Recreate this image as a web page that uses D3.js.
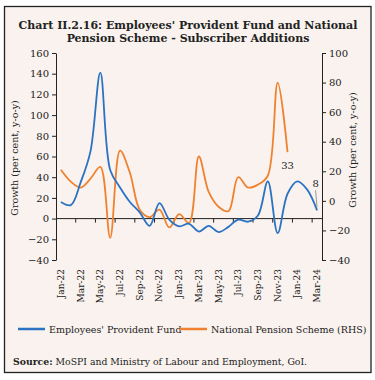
<!DOCTYPE html>
<html>
<head>
<meta charset="utf-8">
<script src="https://cdn.jsdelivr.net/npm/d3@7"></script>
<style>
  body { margin: 0; background: #fff; }
  svg { display: block; }
</style>
</head>
<body>
<div id="chart"></div>
<script>
const months = ["Jan-22","Feb-22","Mar-22","Apr-22","May-22","Jun-22","Jul-22","Aug-22","Sep-22","Oct-22","Nov-22","Dec-22",
  "Jan-23","Feb-23","Mar-23","Apr-23","May-23","Jun-23","Jul-23","Aug-23","Sep-23","Oct-23","Nov-23","Dec-23",
  "Jan-24","Feb-24","Mar-24"];

// EPF growth (left axis)
const epf = [16, 13, 35, 65, 141, 47, 30, 16, 6, -7, 15, -1,
  -7.5, -5, -12.5, -7, -13, -8, -1, -3, 3, 36, -14, 24,
  36, 28, 8];

// NPS growth (right axis), ends Dec-23
const nps = [21, 13, 9, 15, 23, -25, 34, 19, -6, -11, -6, -18,
  -9, -15, 30, 6, -4, -7, 16, 9, 11, 17, 80, 33];

const leftTicks = [160, 140, 120, 100, 80, 60, 40, 20, 0, -20, -40];
const rightTicks = [100, 80, 60, 40, 20, 0, -20, -40];

const W = 375, H = 380;
const plot = { left: 56, right: 322, top: 53, bottom: 260 };
const font = "'DejaVu Serif', serif";

const svg = d3.select("#chart")
  .append("svg")
    .attr("width", W)
    .attr("height", H);

// panel background + border
svg.append("rect")
  .attr("x", 4.5).attr("y", 6.5)
  .attr("width", 366.5).attr("height", 366)
  .attr("fill", "#f9f2ee")
  .attr("stroke", "#222")
  .attr("stroke-width", 1.3);

// title
const title = svg.append("text")
  .attr("text-anchor", "middle")
  .attr("font-family", font)
  .attr("font-weight", "bold")
  .attr("font-size", "11px")
  .attr("fill", "#222");
title.append("tspan").attr("x", 188).attr("y", 29).text("Chart II.2.16: Employees' Provident Fund and National");
title.append("tspan").attr("x", 188).attr("y", 42).text("Pension Scheme - Subscriber Additions");

// scales
const x = d3.scaleBand()
  .domain(months)
  .range([plot.left, plot.right]);

const yL = d3.scaleLinear()
  .domain([-40, 160])
  .range([plot.bottom, plot.top]);

const yR = d3.scaleLinear()
  .domain([-40, 100])
  .range([plot.bottom, plot.top]);

// left axis
svg.append("g")
  .attr("transform", `translate(${plot.left},0)`)
  .call(d3.axisLeft(yL).tickValues(leftTicks).tickSize(4).tickPadding(3).tickSizeOuter(0))
  .call(g => g.select(".domain").attr("stroke", "#222"))
  .call(g => g.selectAll("line").attr("stroke", "#222"))
  .call(g => g.selectAll("text").attr("font-family", font).attr("font-size", "10px").attr("fill", "#222"));

// right axis
svg.append("g")
  .attr("transform", `translate(${plot.right},0)`)
  .call(d3.axisRight(yR).tickValues(rightTicks).tickSize(4).tickPadding(3).tickSizeOuter(0))
  .call(g => g.select(".domain").attr("stroke", "#222"))
  .call(g => g.selectAll("line").attr("stroke", "#222"))
  .call(g => g.selectAll("text").attr("font-family", font).attr("font-size", "10px").attr("fill", "#222"));

// x axis along zero of left scale
const bw = x.step();
const tickIdx = d3.range(2, months.length, 2);
const xg = svg.append("g");
xg.append("line")
  .attr("x1", plot.left).attr("x2", plot.right)
  .attr("y1", yL(0)).attr("y2", yL(0))
  .attr("stroke", "#222");
xg.selectAll("line.tick")
  .data(tickIdx)
  .enter()
  .append("line")
    .attr("class", "tick")
    .attr("x1", d => plot.left + d * bw).attr("x2", d => plot.left + d * bw)
    .attr("y1", yL(0)).attr("y2", yL(0) + 4)
    .attr("stroke", "#222");

// month labels under the plot, every second month
svg.selectAll("text.month")
  .data(months.filter((d, i) => i % 2 === 0))
  .enter()
  .append("text")
    .attr("class", "month")
    .attr("transform", d => `translate(${x(d) + bw / 2 + 3},269) rotate(-90)`)
    .attr("text-anchor", "end")
    .attr("font-family", font)
    .attr("font-size", "9px")
    .attr("fill", "#222")
    .text(d => d);

// axis titles
svg.append("text")
  .attr("transform", "translate(18,158) rotate(-90)")
  .attr("text-anchor", "middle")
  .attr("font-family", font)
  .attr("font-size", "9.5px")
  .attr("fill", "#222")
  .text("Growth (per cent, y-o-y)");

svg.append("text")
  .attr("transform", "translate(356,150) rotate(-90)")
  .attr("text-anchor", "middle")
  .attr("font-family", font)
  .attr("font-size", "9.5px")
  .attr("fill", "#222")
  .text("Growth (per cent, y-o-y)");

// lines
const blue = "#2b72c2", orange = "#f0822f";

const lineL = d3.line()
  .x((d, i) => x(months[i]) + bw / 2)
  .y(d => yL(d))
  .curve(d3.curveCatmullRom.alpha(0.5));

const lineR = d3.line()
  .x((d, i) => x(months[i]) + bw / 2)
  .y(d => yR(d))
  .curve(d3.curveCatmullRom.alpha(0.5));

svg.append("path")
  .datum(nps)
  .attr("d", lineR)
  .attr("fill", "none")
  .attr("stroke", orange)
  .attr("stroke-width", 1.8);

svg.append("path")
  .datum(epf)
  .attr("d", lineL)
  .attr("fill", "none")
  .attr("stroke", blue)
  .attr("stroke-width", 1.8);

// end labels
const lastN = nps.length - 1;
svg.append("text")
  .attr("x", x(months[lastN]) + bw / 2)
  .attr("y", yR(nps[lastN]) + 17)
  .attr("text-anchor", "middle")
  .attr("font-family", font)
  .attr("font-size", "10px")
  .attr("fill", "#222")
  .text(nps[lastN]);

const lastE = epf.length - 1;
const ex = x(months[lastE]) + bw / 2;
svg.append("line")
  .attr("x1", ex - 1.5).attr("x2", ex)
  .attr("y1", yL(epf[lastE]) - 20).attr("y2", yL(epf[lastE]) - 3)
  .attr("stroke", "#999")
  .attr("stroke-width", 1);
svg.append("text")
  .attr("x", ex - 1.5)
  .attr("y", yL(epf[lastE]) - 23)
  .attr("text-anchor", "middle")
  .attr("font-family", font)
  .attr("font-size", "10px")
  .attr("fill", "#222")
  .text(epf[lastE]);

// legend
const legend = [
  { name: "Employees' Provident Fund", color: blue, x: 18 },
  { name: "National Pension Scheme (RHS)", color: orange, x: 180 }
];
const lg = svg.selectAll("g.legend")
  .data(legend)
  .enter()
  .append("g")
    .attr("class", "legend")
    .attr("transform", d => `translate(${d.x},329)`);
lg.append("line")
  .attr("x1", 0).attr("x2", 27)
  .attr("stroke", d => d.color)
  .attr("stroke-width", 2.5);
lg.append("text")
  .attr("x", 31)
  .attr("y", 3.5)
  .attr("font-family", font)
  .attr("font-size", "9.5px")
  .attr("fill", "#222")
  .text(d => d.name);

// source
const src = svg.append("text")
  .attr("x", 13)
  .attr("y", 365)
  .attr("font-family", font)
  .attr("font-size", "9.3px")
  .attr("fill", "#222");
src.append("tspan").attr("font-weight", "bold").text("Source:");
src.append("tspan").text(" MoSPI and Ministry of Labour and Employment, GoI.");
</script>
</body>
</html>
